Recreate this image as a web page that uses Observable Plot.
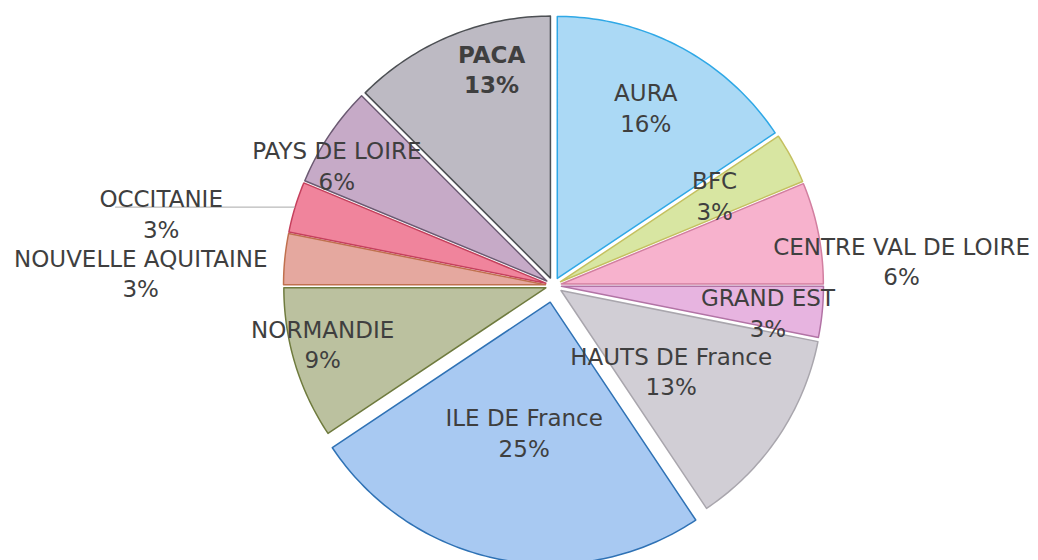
<!DOCTYPE html>
<html>
<head>
<meta charset="utf-8">
<script src="https://cdn.jsdelivr.net/npm/d3@7"></script>
<script src="https://cdn.jsdelivr.net/npm/@observablehq/plot@0.6"></script>
<style>
  html, body { margin: 0; padding: 0; background: #ffffff; }
  #chart { width: 1038px; height: 560px; }
</style>
</head>
<body>
<div id="chart"></div>
<script>
// ---------------- data ----------------
const regions = ["AURA", "BFC", "CENTRE VAL DE LOIRE", "GRAND EST", "HAUTS DE France",
  "ILE DE France", "NORMANDIE", "NOUVELLE AQUITAINE", "OCCITANIE", "PAYS DE LOIRE", "PACA"];
const counts = [5, 1, 2, 1, 4, 8, 3, 1, 1, 2, 4];
const percentLabels = ["16%", "3%", "6%", "3%", "13%", "25%", "9%", "3%", "3%", "6%", "13%"];

// ---------------- styles / layout ----------------
const fills = ["#abd9f5", "#d8e6a2", "#f7b2cd", "#e7b4e0", "#d1ced5", "#a8c9f2",
  "#bbc19f", "#e5a89f", "#f0849c", "#c6aac7", "#bdbac3"];
const strokes = ["#2fa8e6", "#c4c060", "#d27fa0", "#b273a5", "#a9a6ad", "#2f72b5",
  "#6f7b3e", "#c0704e", "#c5405d", "#6b5a72", "#4d5054"];
const pieRadius = 262;
const explode = [8, 8, 8, 8, 9, 17, 8, 8, 8, 8, 8];
// label placement: distance from centre and angular shift (degrees) from slice mid-angle
const labelRadius = [201, 185, 349, 216, 145, 149, 238, 413, 399, 248, 226];
const labelShift = [-0.8, -1.3, 7.1, 1.3, 2.0, 0.1, 2.8, -3.8, -6.4, -4.65, 6.6];
const boldLabels = ["PACA"];
const leaderFor = "OCCITANIE";
const leaderLength = 180;

// ---------------- geometry from data ----------------
const pie = d3.pie().sort(null).startAngle(0).endAngle(2 * Math.PI);
const arcs = pie(counts);
const deg = Math.PI / 180;

const slices = arcs.map((a, i) => {
  const mid = (a.startAngle + a.endAngle) / 2;
  const ox = explode[i] * Math.sin(mid), oy = explode[i] * Math.cos(mid);
  const pts = [{x: ox, y: oy}];
  const n = Math.max(4, Math.ceil((a.endAngle - a.startAngle) / deg));
  for (let k = 0; k <= n; k++) {
    const t = a.startAngle + (a.endAngle - a.startAngle) * k / n;
    pts.push({x: ox + pieRadius * Math.sin(t), y: oy + pieRadius * Math.cos(t)});
  }
  return {name: regions[i], mid, pts};
});

const labels = arcs.map((a, i) => {
  const mid = (a.startAngle + a.endAngle) / 2 + labelShift[i] * deg;
  return {
    name: regions[i],
    text: regions[i] + "\n" + percentLabels[i],
    x: labelRadius[i] * Math.sin(mid),
    y: labelRadius[i] * Math.cos(mid)
  };
});

const li = regions.indexOf(leaderFor);
const lmid = slices[li].mid;
const lr = pieRadius + explode[li];
const leader = [{
  x1: lr * Math.sin(lmid) - leaderLength, y1: lr * Math.cos(lmid),
  x2: lr * Math.sin(lmid), y2: lr * Math.cos(lmid)
}];

const marks = slices.map((s, i) => Plot.line(s.pts, {
  x: "x", y: "y", curve: "linear-closed",
  fill: fills[i], stroke: strokes[i], strokeWidth: 1.5, strokeLinejoin: "round"
}));

marks.push(Plot.link(leader, {x1: "x1", y1: "y1", x2: "x2", y2: "y2", stroke: "#a8a8a8", strokeWidth: 1}));

const textOpts = {
  x: "x", y: "y", text: "text", fill: "#3f3f3f",
  fontSize: 23, fontFamily: "'DejaVu Sans', sans-serif", lineHeight: 1.33,
  textAnchor: "middle"
};
marks.push(Plot.text(labels.filter(d => !boldLabels.includes(d.name)), textOpts));
marks.push(Plot.text(labels.filter(d => boldLabels.includes(d.name)), {...textOpts, fontWeight: "bold"}));

const chart = Plot.plot({
  width: 1038,
  height: 560,
  margin: 0,
  x: {domain: [-553, 485], axis: null},
  y: {domain: [-275, 285], axis: null},
  style: {background: "#ffffff"},
  marks
});
document.getElementById("chart").appendChild(chart);
</script>
</body>
</html>
